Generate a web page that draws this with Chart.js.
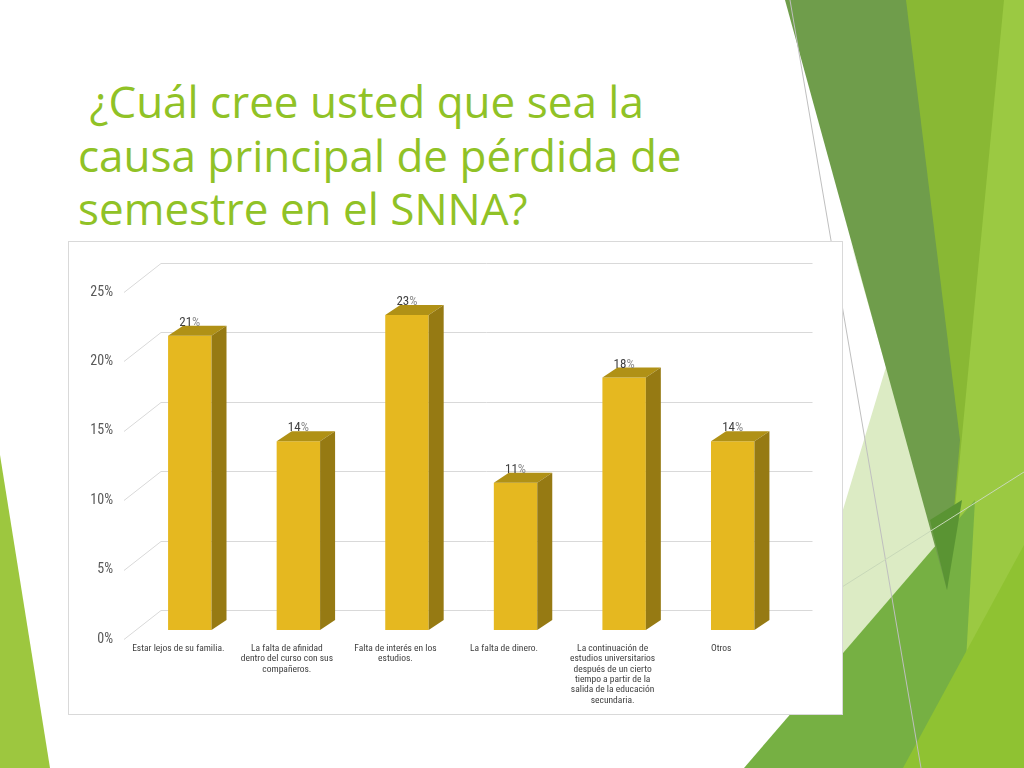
<!DOCTYPE html>
<html>
<head>
<meta charset="utf-8">
<script src="https://cdn.jsdelivr.net/npm/chart.js@4.4.1/dist/chart.umd.min.js"></script>
<style>
  html, body { margin:0; padding:0; background:#fff; }
  body { width:1024px; height:768px; position:relative; overflow:hidden; }
  #deco { position:absolute; left:0; top:0; }
  #title { position:absolute; left:78px; top:75px; color:#90C226; font-family:'Open Sans', Lato, sans-serif;
           font-size:44px; line-height:53.5px; white-space:pre; }
  #box { position:absolute; left:68px; top:241px; width:773px; height:472px; background:#fff; border:1px solid #D9D9D9; }
  #box canvas { position:absolute; left:0; top:0; }
</style>
</head>
<body>
<svg id="deco" width="1024" height="768" viewBox="0 0 1024 768">
  <polygon points="0,455 0,768 50,768" fill="#9DC73F"/>
  <polygon points="900,0 1024,0 1024,768 880,768" fill="#89B834"/>
  <polygon points="1004,0 1024,0 1024,768 930,768" fill="#9BC942"/>
  <polygon points="850,240 950,560 842,662 842,513 886,367" fill="#DCEBC4"/>
  <polygon points="744,768 975,500 960,768" fill="#76B043"/>
  <polygon points="785,0 906,0 960,440 947,590" fill="#6F9D4B"/>
  <polygon points="930,520 962,500 947,590" fill="#5A9433"/>
  <polygon points="903,768 1024,545 1024,768" fill="#8FC232"/>
  <line x1="790" y1="0" x2="921" y2="768" stroke="#BFBFBF" stroke-width="1"/>
  <line x1="842" y1="587" x2="1024" y2="472" stroke="#C8D8B8" stroke-width="1"/>
</svg>
<div id="title"> ¿Cuál cree usted que sea la
causa principal de pérdida de
semestre en el SNNA?</div>
<div id="box"><canvas id="c" width="773" height="472"></canvas></div>
<script>
// ---- data ----
const categories = [
  ["Estar lejos de su familia."],
  ["La falta de afinidad", "dentro del curso con sus", "compañeros."],
  ["Falta de interés en los", "estudios."],
  ["La falta de dinero."],
  ["La continuación de", "estudios universitarios", "después de un cierto", "tiempo a partir de la", "salida de la educación", "secundaria."],
  ["Otros"]
];
const percentages = [21.2, 13.6, 22.7, 10.6, 18.2, 13.6];
const yTicks = [0, 5, 10, 15, 20, 25];

// ---- style constants ----
const FONT = "'Liberation Sans Narrow', 'Roboto Condensed', Lato, sans-serif";
const BACK = {dx: 25.5, dy: -20};   // front plane -> back wall
const FRONT = {dx: -11.5, dy: 9};   // front plane -> front edge
const DEPTH = {dx: 15, dy: -10};    // bar depth

const threeD = {
  id: 'threeD',
  beforeDatasetsDraw(chart) {
    const {ctx, chartArea: a, scales: {y}} = chart;
    ctx.save();
    ctx.strokeStyle = '#D9D9D9';
    ctx.lineWidth = 1;
    y.ticks.forEach(t => {
      const py = Math.round(y.getPixelForValue(t.value) + BACK.dy) + 0.5;
      ctx.beginPath();
      ctx.moveTo(a.left + BACK.dx, py);
      ctx.lineTo(a.right + BACK.dx, py);
      ctx.stroke();
      ctx.beginPath();
      ctx.moveTo(a.left + BACK.dx, py);
      ctx.lineTo(a.left + FRONT.dx, py - BACK.dy + FRONT.dy);
      ctx.stroke();
    });
    ctx.restore();
  },
  afterDatasetsDraw(chart) {
    const {ctx} = chart;
    const meta = chart.getDatasetMeta(0);
    ctx.save();
    meta.data.forEach((bar, i) => {
      const l = bar.x - bar.width / 2, r = bar.x + bar.width / 2, t = bar.y, b = bar.base;
      ctx.fillStyle = '#B09116';
      ctx.beginPath();
      ctx.moveTo(l, t); ctx.lineTo(r, t); ctx.lineTo(r + DEPTH.dx, t + DEPTH.dy); ctx.lineTo(l + DEPTH.dx, t + DEPTH.dy);
      ctx.closePath(); ctx.fill();
      ctx.fillStyle = '#967A13';
      ctx.beginPath();
      ctx.moveTo(r, t); ctx.lineTo(r + DEPTH.dx, t + DEPTH.dy); ctx.lineTo(r + DEPTH.dx, b + DEPTH.dy); ctx.lineTo(r, b);
      ctx.closePath(); ctx.fill();
      // value label
      const num = String(Math.round(percentages[i]));
      ctx.font = '13px ' + FONT;
      ctx.textBaseline = 'middle';
      const wn = ctx.measureText(num).width, wp = ctx.measureText('%').width;
      const x0 = bar.x - (wn + wp) / 2, yy = t - 13;
      ctx.textAlign = 'left';
      ctx.fillStyle = '#404040';
      ctx.fillText(num, x0, yy);
      ctx.fillStyle = '#8C8C8C';
      ctx.fillText('%', x0 + wn, yy);
    });
    ctx.restore();
  }
};

new Chart(document.getElementById('c'), {
  type: 'bar',
  data: {
    labels: categories,
    datasets: [{
      data: percentages,
      backgroundColor: '#E5B820',
      borderWidth: 0,
      categoryPercentage: 1,
      barPercentage: 0.4
    }]
  },
  options: {
    responsive: false,
    animation: false,
    events: [],
    layout: { padding: { left: 0, top: 41, right: 55, bottom: 0 } },
    plugins: { legend: { display: false }, tooltip: { enabled: false }, title: { display: false } },
    scales: {
      x: {
        grid: { display: false },
        border: { display: false },
        ticks: {
          autoSkip: false, maxRotation: 0, minRotation: 0,
          labelOffset: FRONT.dx, padding: 5,
          color: '#404040',
          font: { family: FONT, size: 9.5, lineHeight: 1.1 }
        },
        afterFit(s) { s.height = 84; }
      },
      y: {
        min: 0, max: 25,
        afterBuildTicks(s) { s.ticks = yTicks.map(v => ({value: v})); },
        grid: { display: false },
        border: { display: false },
        ticks: {
          padding: 14.5, labelOffset: FRONT.dy,
          color: '#595959',
          font: { family: FONT, size: 14 },
          callback: v => v + '%'
        },
        afterFit(s) { s.width = 66.5; }
      }
    }
  },
  plugins: [threeD]
});
</script>
</body>
</html>
